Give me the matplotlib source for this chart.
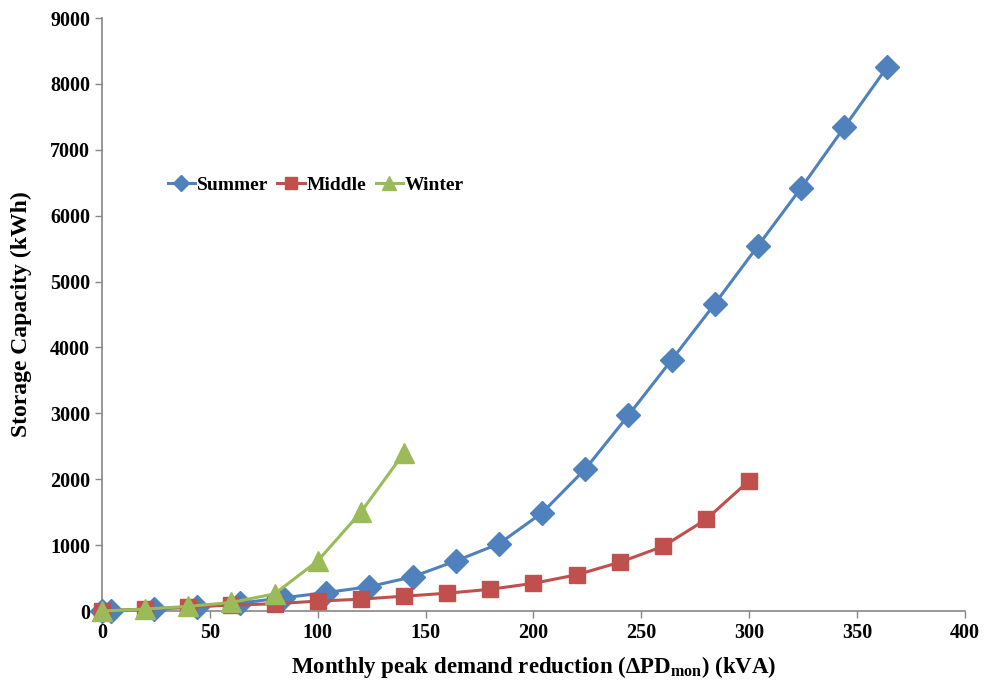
import matplotlib
matplotlib.use('Agg')
import matplotlib.pyplot as plt

plt.rcParams['font.family'] = ['Liberation Serif', 'DejaVu Serif']
plt.rcParams['font.weight'] = 'bold'
plt.rcParams['mathtext.fontset'] = 'custom'
plt.rcParams['mathtext.rm'] = 'Liberation Serif:bold'
plt.rcParams['mathtext.bf'] = 'Liberation Serif:bold'

summer_x = [0, 4, 24, 44, 64, 84, 104, 124, 144, 164, 184, 204, 224, 244, 264, 284, 304, 324, 344, 364]
summer_y = [0, 5, 30, 60, 120, 200, 280, 370, 520, 760, 1020, 1490, 2155, 2970, 3810, 4660, 5540, 6420, 7340, 8260]

middle_x = [0, 20, 40, 60, 80, 100, 120, 140, 160, 180, 200, 220, 240, 260, 280, 300]
middle_y = [0, 30, 60, 90, 110, 150, 180, 225, 270, 330, 420, 550, 740, 980, 1390, 1980]

winter_x = [0, 20, 40, 60, 80, 100, 120, 140]
winter_y = [0, 30, 70, 130, 260, 760, 1500, 2400]

fig = plt.figure(figsize=(9.86, 6.83), dpi=100)
ax = fig.add_axes([0.1034, 0.1054, 0.8753, 0.8682])

ax.plot(summer_x, summer_y, color='#4F81BD', marker='D', markersize=12, lw=2.2, label='Summer', zorder=3, clip_on=False)
ax.plot(middle_x, middle_y, color='#C0504D', marker='s', markersize=11.5, lw=2.2, label='Middle', zorder=3, clip_on=False)
ax.plot(winter_x, winter_y, color='#9BBB59', marker='^', markersize=14, lw=2.2, label='Winter', zorder=4, clip_on=False)

ax.set_xlim(0, 400)
ax.set_ylim(0, 9000)
ax.set_xticks(range(0, 401, 50))
ax.set_yticks(range(0, 9001, 1000))
for s in ['top', 'right']:
    ax.spines[s].set_visible(False)
for s in ['left', 'bottom']:
    ax.spines[s].set_color('#868686')
    ax.spines[s].set_linewidth(1.2)
    ax.spines[s].set_zorder(2)
ax.tick_params(direction='out', color='#868686', length=5, labelsize=14.5, width=1)
for lab in ax.get_xticklabels() + ax.get_yticklabels():
    lab.set_fontweight('bold')

ax.set_xlabel(r'Monthly peak demand reduction ($\Delta$PD$_{\mathrm{mon}}$) (kVA)', fontsize=16.5, fontweight='bold', labelpad=8)
ax.set_ylabel('Storage Capacity (kWh)', fontsize=17, fontweight='bold', labelpad=13)

leg = ax.legend(loc='center left', bbox_to_anchor=(0.056, 0.718), ncol=3, frameon=False,
                fontsize=14, handlelength=1.4, handletextpad=0.12, columnspacing=0.45, markerscale=0.7)
for t in leg.get_texts():
    t.set_fontweight('bold')

fig.savefig('out.png', dpi=100)
